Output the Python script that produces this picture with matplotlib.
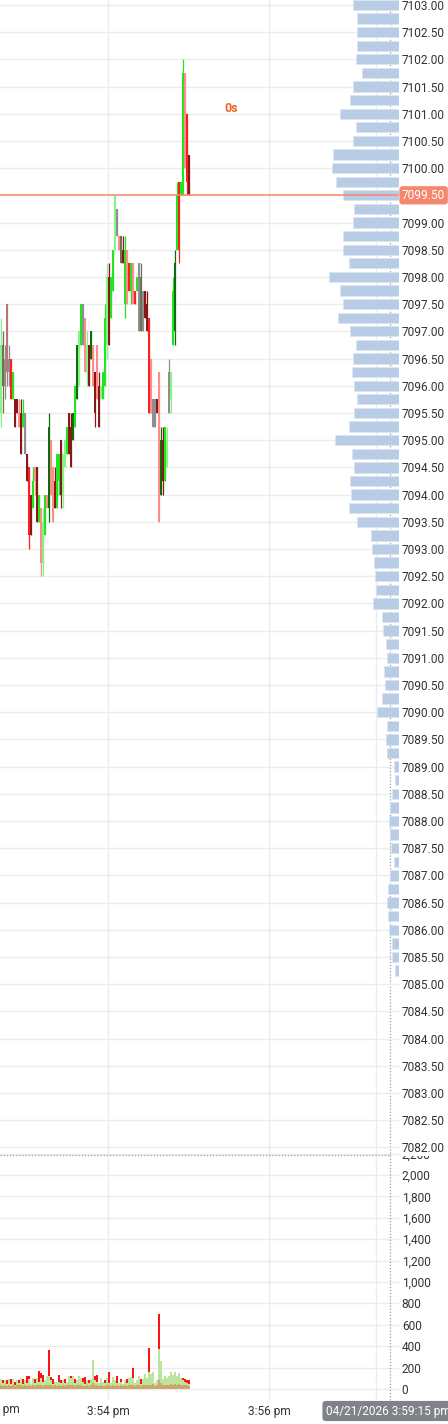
import matplotlib
matplotlib.use('Agg')
import matplotlib.pyplot as plt
import matplotlib.transforms as mtransforms
from matplotlib.lines import Line2D
from matplotlib.ticker import FuncFormatter

plt.rcParams['font.family'] = ['Roboto', 'DejaVu Sans']

# ---------------- data ----------------
# candle times: seconds after 3:52:00 pm
times = [40.2, 41.7, 43.2, 44.7, 46.2, 47.7, 49.1, 50.6, 52.1, 53.6,
         55.1, 56.6, 58.1, 59.6, 61.1, 62.6, 64.1, 65.5, 67.0, 68.5,
         70.0, 71.5, 73.0, 74.5, 76.0, 77.5, 79.0, 80.4, 81.9, 83.4,
         84.9, 86.4, 87.9, 89.4, 90.9, 92.4, 93.9, 95.4, 96.8, 98.3,
         99.8, 101.3, 102.8, 104.3, 105.8, 107.3, 108.8, 110.3, 111.7, 113.2,
         114.7, 116.2, 117.7, 119.2, 120.7, 122.2, 123.7, 125.2, 126.7, 128.1,
         129.6, 131.1, 132.6, 134.1, 135.6, 137.1, 138.6, 140.1, 141.6, 143.1,
         144.5, 146.0, 147.5, 149.0, 150.5, 152.0, 153.5, 155.0, 156.5, 158.0,
         159.4, 160.9, 162.4, 163.9, 165.4, 166.9, 168.4, 169.9, 171.4, 172.9,
         174.4, 175.8, 177.3, 178.8, 180.3]

opens = [7095.5, 7096.75, 7096.0, 7097.5, 7096.25, 7096.5, 7095.75, 7095.75, 7095.75, 7095.5,
         7095.5, 7095.25, 7095.5, 7094.75, 7094.5, 7094.0, 7093.75, 7094.25, 7094.5, 7093.5,
         7093.75, 7092.75, 7093.25, 7094.0, 7093.75, 7095.0, 7094.5, 7093.75, 7093.75, 7094.25,
         7095.0, 7094.0, 7094.5, 7094.75, 7095.5, 7095.25, 7095.0, 7095.25, 7095.75, 7096.0,
         7096.75, 7097.5, 7097.25, 7096.25, 7096.75, 7096.5, 7096.75, 7096.25, 7096.75, 7096.0,
         7095.75, 7095.75, 7096.0, 7096.75, 7098.0, 7097.25, 7097.75, 7098.5, 7099.25, 7098.75,
         7098.75, 7098.5, 7097.5, 7098.5, 7098.25, 7097.75, 7098.25, 7097.75, 7097.75, 7098.25,
         7097.0, 7097.75, 7097.75, 7097.5, 7097.25, 7096.5, 7095.75, 7095.25, 7095.75, 7096.25,
         7094.0, 7095.0, 7094.25, 7094.5, 7095.5, 7095.75, 7096.75, 7097.0, 7098.5, 7099.75,
         7099.5, 7099.5, 7101.75, 7101.0, 7100.25]

highs = [7097.25, 7097.0, 7096.75, 7097.5, 7096.75, 7096.5, 7096.25, 7095.75, 7095.75, 7095.75,
         7095.75, 7095.75, 7095.5, 7094.75, 7094.5, 7094.0, 7094.5, 7094.5, 7094.5, 7094.0,
         7093.75, 7093.75, 7094.0, 7094.0, 7095.5, 7095.0, 7094.5, 7094.5, 7094.75, 7094.75,
         7095.0, 7094.75, 7095.0, 7095.25, 7095.5, 7095.5, 7095.5, 7096.0, 7096.75, 7097.0,
         7097.5, 7097.5, 7097.25, 7097.0, 7096.75, 7097.0, 7096.75, 7096.25, 7096.75, 7096.25,
         7096.0, 7096.25, 7097.5, 7098.25, 7098.25, 7098.0, 7098.5, 7099.5, 7099.25, 7098.75,
         7098.75, 7098.75, 7098.75, 7098.5, 7098.25, 7098.25, 7098.25, 7097.75, 7098.0, 7098.25,
         7098.25, 7097.75, 7097.75, 7097.75, 7097.25, 7096.5, 7095.75, 7095.75, 7095.75, 7096.25,
         7095.25, 7095.25, 7095.25, 7095.25, 7096.5, 7096.25, 7098.0, 7098.5, 7099.75, 7099.75,
         7099.75, 7102.0, 7101.75, 7101.0, 7100.25]

lows = [7095.25, 7095.5, 7095.75, 7096.0, 7096.0, 7095.75, 7095.75, 7095.25, 7095.5, 7095.25,
        7094.75, 7095.25, 7094.75, 7094.25, 7093.0, 7093.25, 7093.75, 7094.0, 7093.5, 7093.5,
        7092.5, 7092.5, 7093.25, 7093.75, 7093.5, 7094.0, 7093.5, 7093.75, 7093.75, 7094.0,
        7093.75, 7093.75, 7094.5, 7094.75, 7094.75, 7094.5, 7095.0, 7095.25, 7095.75, 7096.0,
        7096.75, 7096.75, 7096.25, 7096.0, 7096.0, 7096.5, 7096.0, 7095.25, 7095.75, 7095.25,
        7095.75, 7095.75, 7096.0, 7096.5, 7096.75, 7097.25, 7097.75, 7098.5, 7098.75, 7098.5,
        7098.25, 7098.25, 7097.25, 7097.5, 7097.75, 7097.5, 7097.5, 7097.5, 7097.75, 7097.0,
        7097.0, 7097.0, 7097.25, 7097.0, 7095.5, 7095.5, 7095.25, 7095.25, 7095.5, 7093.5,
        7094.0, 7094.0, 7094.25, 7094.5, 7095.5, 7095.5, 7096.75, 7096.75, 7098.5, 7098.25,
        7099.5, 7099.5, 7100.0, 7099.5, 7099.5]

closes = [7096.75, 7096.0, 7096.5, 7096.25, 7096.5, 7095.75, 7096.25, 7095.25, 7095.5, 7095.25,
          7094.75, 7095.5, 7094.75, 7094.25, 7093.25, 7093.25, 7094.25, 7094.5, 7093.5, 7094.0,
          7092.75, 7093.5, 7094.0, 7093.75, 7095.25, 7094.0, 7093.5, 7094.25, 7094.75, 7094.75,
          7094.0, 7094.75, 7095.0, 7095.25, 7094.75, 7094.5, 7095.5, 7096.0, 7096.75, 7097.0,
          7097.5, 7096.75, 7096.25, 7096.75, 7096.0, 7097.0, 7096.0, 7095.5, 7095.75, 7095.25,
          7096.0, 7096.25, 7097.25, 7098.0, 7096.75, 7098.0, 7098.5, 7099.5, 7098.75, 7098.5,
          7098.25, 7098.25, 7098.5, 7097.5, 7097.75, 7098.25, 7097.5, 7097.5, 7098.0, 7097.0,
          7098.0, 7097.0, 7097.25, 7097.0, 7095.5, 7095.5, 7095.25, 7095.75, 7095.5, 7093.5,
          7095.0, 7094.25, 7095.25, 7095.0, 7096.25, 7096.25, 7097.75, 7098.25, 7099.5, 7098.5,
          7099.75, 7101.75, 7100.0, 7099.75, 7099.5]

# delta colour class of each candle
candle_class = list("gOKPKRGMMr" "MGKMRMGrMG" "rgGrDrrMGG" "MggGMMDGDg" "GKrgMDrMrM"
                    "gGGgMGGgKr" "OMGrRGrRGK" "OKMMRrKKMr" "DMGgKgGDGR" "GGrRM")

# volume per candle: base (tan), buy (green), sell (red)
vol_base = [40, 30, 40, 30, 40, 30, 40, 30, 40, 35,
            40, 30, 40, 30, 40, 30, 40, 30, 40, 40,
            40, 30, 40, 40, 40, 40, 30, 40, 30, 40,
            30, 40, 30, 40, 40, 40, 40, 30, 40, 40,
            40, 30, 30, 40, 30, 40, 60, 40, 40, 30,
            40, 30, 30, 40, 40, 30, 40, 30, 40, 30,
            40, 30, 40, 30, 40, 40, 40, 30, 40, 40,
            30, 40, 40, 40, 40, 40, 50, 30, 40, 80,
            60, 40, 40, 40, 40, 50, 40, 50, 40, 50,
            40, 40, 40, 40, 30]
vol_buy = [50, 30, 40, 20, 50, 20, 50, 10, 40, 20,
           60, 20, 40, 30, 50, 20, 60, 30, 60, 30,
           60, 40, 40, 80, 80, 40, 20, 30, 40, 30,
           30, 40, 30, 30, 80, 60, 80, 30, 40, 80,
           60, 40, 20, 40, 30, 50, 210, 40, 30, 30,
           60, 40, 30, 60, 20, 30, 70, 50, 20, 30,
           30, 20, 40, 30, 60, 70, 60, 30, 40, 80,
           20, 50, 100, 60, 120, 100, 110, 30, 40, 290,
           200, 50, 80, 60, 80, 110, 90, 110, 80, 100,
           60, 40, 30, 20, 20]
vol_sell = [0, 20, 0, 30, 0, 40, 0, 30, 0, 30,
            0, 40, 0, 60, 30, 0, 0, 30, 0, 100,
            50, 60, 0, 0, 240, 30, 40, 0, 0, 60,
            20, 0, 30, 0, 0, 20, 0, 30, 0, 0,
            0, 30, 60, 0, 20, 0, 0, 40, 60, 0,
            0, 0, 20, 0, 100, 0, 0, 0, 60, 0,
            20, 0, 0, 30, 0, 0, 100, 0, 0, 0,
            40, 0, 0, 0, 220, 0, 0, 0, 0, 335,
            0, 0, 0, 0, 0, 0, 0, 0, 0, 0,
            0, 20, 20, 20, 30]

# session volume profile (price level, volume)
profile_prices = [7103.00, 7102.75, 7102.50, 7102.25, 7102.00, 7101.75, 7101.50, 7101.25,
                  7101.00, 7100.75, 7100.50, 7100.25, 7100.00, 7099.75, 7099.50, 7099.25,
                  7099.00, 7098.75, 7098.50, 7098.25, 7098.00, 7097.75, 7097.50, 7097.25,
                  7097.00, 7096.75, 7096.50, 7096.25, 7096.00, 7095.75, 7095.50, 7095.25,
                  7095.00, 7094.75, 7094.50, 7094.25, 7094.00, 7093.75, 7093.50, 7093.25,
                  7093.00, 7092.75, 7092.50, 7092.25, 7092.00, 7091.75, 7091.50, 7091.25,
                  7091.00, 7090.75, 7090.50, 7090.25, 7090.00, 7089.75, 7089.50, 7089.25,
                  7089.00, 7088.75, 7088.50, 7088.25, 7088.00, 7087.75, 7087.50, 7087.25,
                  7087.00, 7086.75, 7086.50, 7086.25, 7086.00, 7085.75, 7085.50, 7085.25]
profile_volume = [463, 420, 417, 423, 430, 367, 457, 493,
                  590, 430, 463, 663, 673, 633, 560, 453,
                  463, 563, 557, 500, 700, 593, 563, 613,
                  490, 430, 460, 467, 450, 420, 450, 500,
                  637, 467, 450, 493, 480, 497, 417, 283,
                  273, 250, 237, 230, 263, 170, 157, 130,
                  123, 147, 140, 173, 220, 120, 130, 123,
                  47, 37, 67, 90, 103, 87, 80, 47,
                  87, 110, 117, 107, 97, 70, 73, 37]

last_price = 7099.50
price_ticks = [7082 + 0.5 * k for k in range(43)]
volume_ticks = list(range(0, 2201, 200))
time_ticks = [120, 240]
time_labels = ["3:54 pm", "3:56 pm"]
countdown_text = "0s"
stamp_text = "04/21/2026 3:59:15 pm"

palette = {'G': '#1fe61f', 'g': '#86f586', 'D': '#0d6a0d', 'R': '#ff1f1f',
           'r': '#ff8c8c', 'M': '#8a1616', 'K': '#8e8e8e', 'O': '#6c7157', 'P': '#bf7272'}

# ---------------- layout ----------------
W, H = 448, 1424
fig = plt.figure(figsize=(W / 100, H / 100), dpi=100)
fig.patch.set_facecolor('white')

def fx(px):
    return px / W

def fy(py):
    return 1 - py / H

ax = fig.add_axes([0, fy(1155), fx(399), 1155 / H])
axv = fig.add_axes([0, fy(1400), fx(399), (1400 - 1153) / H])
ax.set_zorder(2)
axv.set_zorder(1)
ax.patch.set_visible(False)

XMIN, XMAX = 39.5, 336.9
for a in (ax, axv):
    a.set_xlim(XMIN, XMAX)
    for s in a.spines.values():
        s.set_visible(False)

grid_c = '#ececec'
# ---- main price panel ----
ax.set_ylim(7081.86, 7103.09)
ax.set_yticks(price_ticks)
ax.yaxis.set_major_formatter(FuncFormatter(lambda v, p: f"{v:.2f}"))
ax.yaxis.tick_right()
ax.tick_params(axis='y', length=0, pad=2, labelsize=8.6, labelcolor='#333333')
ax.grid(axis='y', color=grid_c, lw=1, zorder=0)
for t in time_ticks:
    ax.axvline(t, color=grid_c, lw=1, zorder=0)
ax.axvline(319.4, color=grid_c, lw=1, zorder=0)
for lbl in ax.get_yticklabels():
    lbl.set_bbox(dict(fc='white', ec='none', pad=0.6))

cols = [palette[c] for c in candle_class]
ax.vlines(times, lows, highs, colors=cols, lw=0.9, zorder=3)
bottoms = [min(o, c) for o, c in zip(opens, closes)]
heights = [max(abs(c - o), 0.06) for o, c in zip(opens, closes)]
ax.bar(times, heights, bottom=bottoms, width=1.6, color=cols, lw=0, zorder=3)

# volume profile on a twin axis (bars grow leftward from the right edge)
axp = ax.twiny()
axp.set_zorder(3)
axp.set_xlim(3990, 0)
axp.barh(profile_prices, profile_volume, height=0.19, left=0, color='#b9cce5',
         edgecolor='#dbe5f2', lw=0.5, zorder=2)
axp.axhline(last_price, color='#f4896f', lw=1.1, zorder=4)
axp.tick_params(axis='x', top=False, labeltop=False, bottom=False, labelbottom=False)
for s in axp.spines.values():
    s.set_visible(False)
ax.tick_params(axis='x', which='both', bottom=False, top=False,
               labelbottom=False, labeltop=False)

# last price marker
trans = mtransforms.blended_transform_factory(ax.transAxes, ax.transData)
ax.text(1.0 + 3 / 399, last_price, f"{last_price:.2f}", transform=trans, ha='left', va='center',
        fontsize=8.6, color='white', zorder=10, clip_on=False,
        bbox=dict(boxstyle='round,pad=0.22,rounding_size=0.25', fc='#f4886e', ec='none'))

ax.text(231 / 399, 1 - 109 / 1155, countdown_text, transform=ax.transAxes, ha='center',
        va='center', fontsize=9, color='#f2622a', fontweight='bold')

# ---- volume panel ----
axv.set_ylim(-102.8, 2205.6)
axv.set_yticks(volume_ticks)
axv.yaxis.set_major_formatter(FuncFormatter(lambda v, p: f"{v:,.0f}"))
axv.yaxis.tick_right()
axv.tick_params(axis='y', length=0, pad=2, labelsize=8.6, labelcolor='#333333')
axv.grid(axis='y', color=grid_c, lw=1, zorder=0)
for t in time_ticks:
    axv.axvline(t, color=grid_c, lw=1, zorder=0)
axv.axvline(319.4, color=grid_c, lw=1, zorder=0)
axv.set_xticks(time_ticks)
axv.set_xticklabels(time_labels)
axv.tick_params(axis='x', length=0, pad=3.5, labelsize=8.6, labelcolor='#333333')

bw = 1.9
axv.bar(times, vol_base, width=bw, color='#c9a869', lw=0, zorder=2)
axv.bar(times, vol_buy, bottom=vol_base, width=bw, color='#bde49c', lw=0, zorder=2)
top = [b + g for b, g in zip(vol_base, vol_buy)]
axv.bar(times, vol_sell, bottom=top, width=bw, color='#ff1212', lw=0, zorder=2)

# panel separator and cursor line
fig.add_artist(Line2D([0, fx(390)], [fy(1155), fy(1155)], transform=fig.transFigure,
                      color='#9a9a9a', lw=0.9, ls=(0, (1, 1.5))))
fig.add_artist(Line2D([fx(390), fx(390)], [fy(1400), 1], transform=fig.transFigure,
                      color='#9a9a9a', lw=0.9, ls=(0, (1, 1.5))))

fig.text(fx(-1.5), fy(1410), "3:52 pm", ha='center', va='center', fontsize=8.6, color='#333333')
fig.text(fx(326), fy(1411), stamp_text, ha='left', va='center', fontsize=8.6, color='white',
         bbox=dict(boxstyle='round,pad=0.3,rounding_size=0.3', fc='#7f8389', ec='none'))

fig.savefig('out.png', dpi=100, facecolor='white')
